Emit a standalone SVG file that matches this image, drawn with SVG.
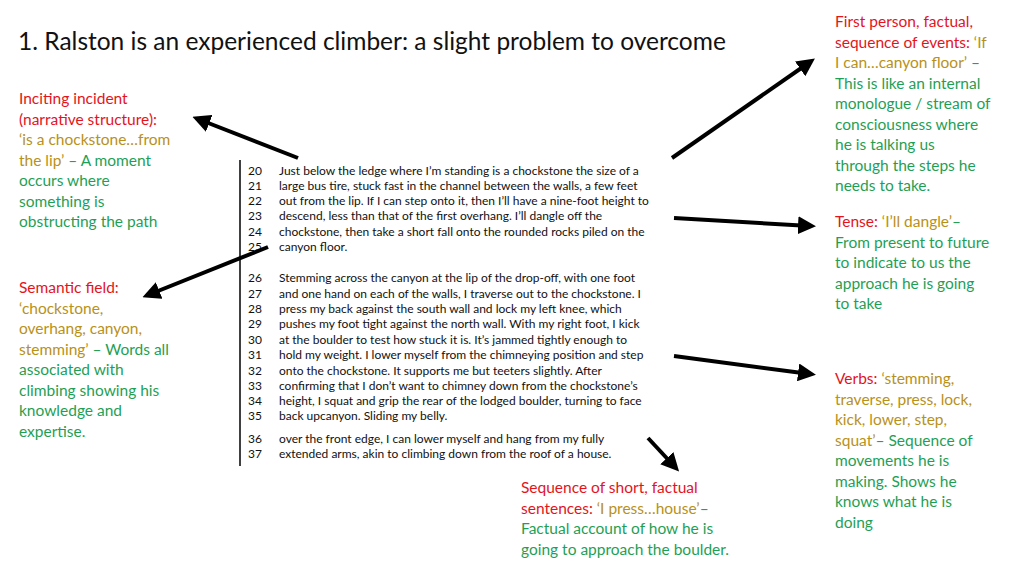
<svg xmlns="http://www.w3.org/2000/svg" width="1024" height="576" viewBox="0 0 1024 576">
<style>
.a{font-family:Lato,"Open Sans",sans-serif;font-size:15.5px;}
.r{fill:#e3141c}.g{fill:#b8911a}.n{fill:#1f9f55}
.t{font-family:Lato,"Open Sans",sans-serif;font-size:12px;fill:#111}
.c{stroke:#000;stroke-width:4;fill:none;marker-end:url(#h)}
</style>
<defs><marker id="h" markerWidth="4.5" markerHeight="4.5" refX="3" refY="2.25" orient="auto"><path d="M0,0L4.5,2.25L0,4.5z" fill="#000"/></marker></defs>
<rect width="1024" height="576" fill="#fff"/>
<text x="18" y="50" font-family="Lato,'Open Sans',sans-serif" font-size="24.5" fill="#111">1. Ralston is an experienced climber: a slight problem to overcome</text>
<g id="passage">
<line x1="240" y1="160" x2="240" y2="466" stroke="#000" stroke-width="1.5"/>
<text class="t" x="248" y="175">20</text><text class="t" x="279" y="175">Just below the ledge where I’m standing is a chockstone the size of a</text>
<text class="t" x="248" y="190">21</text><text class="t" x="279" y="190">large bus tire, stuck fast in the channel between the walls, a few feet</text>
<text class="t" x="248" y="205">22</text><text class="t" x="279" y="205">out from the lip.  If I can step onto it, then I’ll have a nine-foot height to</text>
<text class="t" x="248" y="220">23</text><text class="t" x="279" y="220">descend, less than that of the first overhang. I’ll dangle off the</text>
<text class="t" x="248" y="236">24</text><text class="t" x="279" y="236">chockstone, then take a short fall onto the rounded rocks piled on the</text>
<text class="t" x="248" y="251">25</text><text class="t" x="279" y="251">canyon floor.</text>
<text class="t" x="248" y="282">26</text><text class="t" x="279" y="282">Stemming across the canyon at the lip of the drop-off, with one foot</text>
<text class="t" x="248" y="298">27</text><text class="t" x="279" y="298">and one hand on each of the walls, I traverse out to the chockstone.  I</text>
<text class="t" x="248" y="313">28</text><text class="t" x="279" y="313">press my back against the south wall and lock my left knee, which</text>
<text class="t" x="248" y="328">29</text><text class="t" x="279" y="328">pushes my foot tight against the north wall.  With my right foot, I kick</text>
<text class="t" x="248" y="344">30</text><text class="t" x="279" y="344">at the boulder to test how stuck it is.  It’s jammed tightly enough to</text>
<text class="t" x="248" y="359">31</text><text class="t" x="279" y="359">hold my weight.  I lower myself from the chimneying position and step</text>
<text class="t" x="248" y="375">32</text><text class="t" x="279" y="375">onto the chockstone.  It supports me but teeters slightly.  After</text>
<text class="t" x="248" y="390">33</text><text class="t" x="279" y="390">confirming that I don’t want to chimney down from the chockstone’s</text>
<text class="t" x="248" y="405">34</text><text class="t" x="279" y="405">height, I squat and grip the rear of the lodged boulder, turning to face</text>
<text class="t" x="248" y="420">35</text><text class="t" x="279" y="420">back upcanyon.  Sliding my belly.</text>
<text class="t" x="248" y="443">36</text><text class="t" x="279" y="443">over the front edge, I can lower myself and hang from my fully</text>
<text class="t" x="248" y="458">37</text><text class="t" x="279" y="458">extended arms, akin to climbing down from the roof of a house.</text>
</g>
<g id="inciting" class="a">
<text x="19" y="104"><tspan class="r">Inciting incident</tspan>
<tspan x="19" dy="20.5" class="r">(narrative structure):</tspan>
<tspan x="19" dy="20.5" class="g">‘is a chockstone…from</tspan>
<tspan x="19" dy="20.5" class="g">the lip’</tspan><tspan class="n"> – A moment</tspan>
<tspan x="19" dy="20.5" class="n">occurs where</tspan>
<tspan x="19" dy="20.5" class="n">something is</tspan>
<tspan x="19" dy="20.5" class="n">obstructing the path</tspan></text>
</g>
<g id="semantic" class="a">
<text x="19" y="293"><tspan class="r">Semantic field:</tspan>
<tspan x="19" dy="20.5" class="g">‘chockstone,</tspan>
<tspan x="19" dy="20.5" class="g">overhang, canyon,</tspan>
<tspan x="19" dy="20.5" class="g">stemming’</tspan><tspan class="n"> – Words all</tspan>
<tspan x="19" dy="20.5" class="n">associated with</tspan>
<tspan x="19" dy="20.5" class="n">climbing showing his</tspan>
<tspan x="19" dy="20.5" class="n">knowledge and</tspan>
<tspan x="19" dy="20.5" class="n">expertise.</tspan></text>
</g>
<g id="firstperson" class="a">
<text x="835" y="27"><tspan class="r">First person, factual,</tspan>
<tspan x="835" dy="20.5" class="r">sequence of events: </tspan><tspan class="g">‘If</tspan>
<tspan x="835" dy="20.5" class="g">I can…canyon floor’</tspan><tspan class="n"> –</tspan>
<tspan x="835" dy="20.5" class="n">This is like an internal</tspan>
<tspan x="835" dy="20.5" class="n">monologue / stream of</tspan>
<tspan x="835" dy="20.5" class="n">consciousness where</tspan>
<tspan x="835" dy="20.5" class="n">he is talking us</tspan>
<tspan x="835" dy="20.5" class="n">through the steps he</tspan>
<tspan x="835" dy="20.5" class="n">needs to take.</tspan></text>
</g>
<g id="tense" class="a">
<text x="835" y="227"><tspan class="r">Tense: </tspan><tspan class="g">‘I’ll dangle’</tspan><tspan class="n">–</tspan>
<tspan x="835" dy="20.5" class="n">From present to future</tspan>
<tspan x="835" dy="20.5" class="n">to indicate to us the</tspan>
<tspan x="835" dy="20.5" class="n">approach he is going</tspan>
<tspan x="835" dy="20.5" class="n">to take</tspan></text>
</g>
<g id="verbs" class="a">
<text x="835" y="384"><tspan class="r">Verbs: </tspan><tspan class="g">‘stemming,</tspan>
<tspan x="835" dy="20.5" class="g">traverse, press, lock,</tspan>
<tspan x="835" dy="20.5" class="g">kick, lower, step,</tspan>
<tspan x="835" dy="20.5" class="g">squat’</tspan><tspan class="n">– Sequence of</tspan>
<tspan x="835" dy="20.5" class="n">movements he is</tspan>
<tspan x="835" dy="20.5" class="n">making. Shows he</tspan>
<tspan x="835" dy="20.5" class="n">knows what he is</tspan>
<tspan x="835" dy="20.5" class="n">doing</tspan></text>
</g>
<g id="sequence" class="a">
<text x="521" y="493"><tspan class="r">Sequence of short, factual</tspan>
<tspan x="521" dy="20.5" class="r">sentences: </tspan><tspan class="g">‘I press…house’</tspan><tspan class="n">–</tspan>
<tspan x="521" dy="20.5" class="n">Factual account of how he is</tspan>
<tspan x="521" dy="20.5" class="n">going to approach the boulder.</tspan></text>
</g>
<g id="connectors">
<line class="c" x1="298" y1="158" x2="198" y2="119"/>
<line class="c" x1="672" y1="158" x2="810" y2="62"/>
<line class="c" x1="674" y1="218" x2="810" y2="226"/>
<line class="c" x1="268" y1="247" x2="148" y2="295"/>
<line class="c" x1="674" y1="356" x2="810" y2="374"/>
<line class="c" x1="648" y1="438" x2="675" y2="467"/>
</g>
</svg>
